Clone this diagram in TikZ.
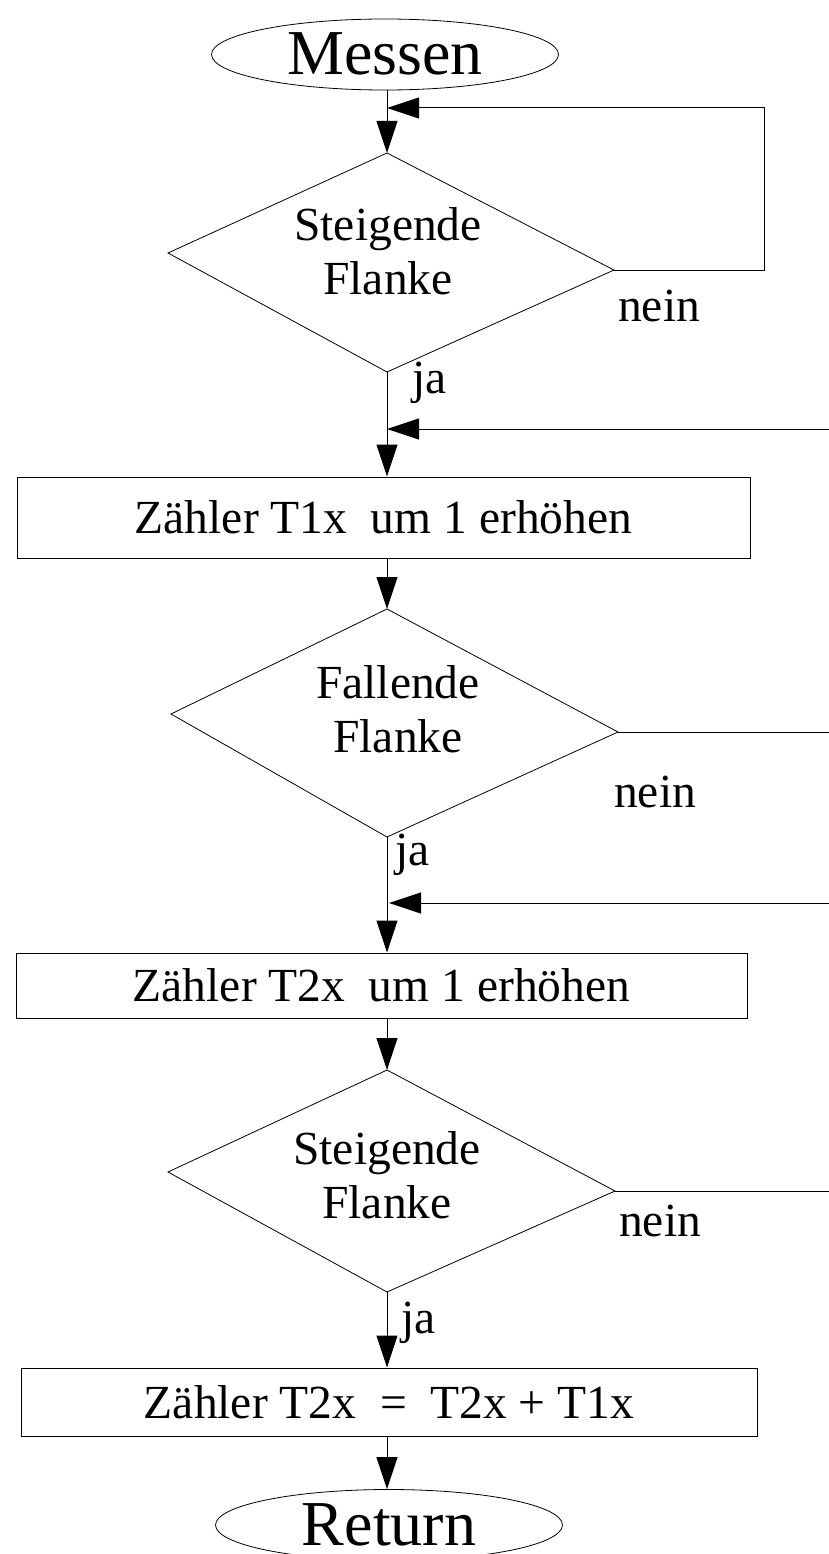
\documentclass[tikz,border=0pt]{standalone}
\usepackage{fontspec}
\setmainfont{Liberation Serif}
\usetikzlibrary{arrows.meta,shapes.geometric}
\tikzset{
  conn/.style={line width=1pt, draw=black},
  arr/.style={conn, -{Triangle[length=32pt,width=21pt]}},
  dia/.style={draw=black, line width=0.8pt, line join=miter},
  boxnode/.style={draw=black, line width=1pt, inner sep=0pt},
  txt/.style={font=\fontsize{47.5}{54}\selectfont},
  term/.style={draw=black, ellipse, line width=0.8pt, inner sep=0pt,
    minimum width=347pt, minimum height=71pt, text height=41pt, text depth=0pt,
    font=\fontsize{64}{70}\selectfont},
  lbl/.style={txt, inner sep=0pt, anchor=base west},
}
\begin{document}
\begin{tikzpicture}[x=1pt,y=-1pt]
\useasboundingbox (0,0) rectangle (829,1554);

% terminals
\node[term] (messen) at (385,54.5) {Messen};
\node[term] (ret) at (389,1525) {Return};

% diamond 1
\coordinate (d1t) at (387,153);
\coordinate (d1r) at (614,270);
\coordinate (d1b) at (387,372);
\coordinate (d1l) at (168,253);
\draw[dia] (d1t) -- (d1r) -- (d1b) -- (d1l) -- cycle;
\node[txt, align=center] (d1txt) at (388,251) {Steigende\\Flanke};

% diamond 2
\coordinate (d2t) at (387,609);
\coordinate (d2r) at (618,732);
\coordinate (d2b) at (387,837);
\coordinate (d2l) at (171,714);
\draw[dia] (d2t) -- (d2r) -- (d2b) -- (d2l) -- cycle;
\node[txt, align=center] (d2txt) at (398,709) {Fallende\\Flanke};

% diamond 3
\coordinate (d3t) at (387,1070);
\coordinate (d3r) at (615,1191);
\coordinate (d3b) at (387,1292);
\coordinate (d3l) at (168,1172);
\draw[dia] (d3t) -- (d3r) -- (d3b) -- (d3l) -- cycle;
\node[txt, align=center] (d3txt) at (387,1175) {Steigende\\Flanke};

% boxes
\node[boxnode, txt, minimum width=733pt, minimum height=81pt] (b1) at (383.5,517.5) {Zähler T1x~ um 1 erhöhen};
\node[boxnode, txt, minimum width=731pt, minimum height=65pt] (b2) at (381.5,985.5) {Zähler T2x~ um 1 erhöhen};
\node[boxnode, txt, minimum width=736pt, minimum height=68pt] (b3) at (389,1402) {Zähler T2x~ =~ T2x + T1x};

% junctions and free ends
\coordinate (j1) at (387,108);
\coordinate (c1a) at (764,270);
\coordinate (c1b) at (764,108);
\coordinate (e1) at (829,429);
\coordinate (j2) at (387,429);
\coordinate (e2) at (829,732);
\coordinate (e3) at (829,903);
\coordinate (j3) at (389,903);
\coordinate (e4) at (829,1191);

% connectors
\draw[arr] (messen.south -| d1t) -- (d1t);
\draw[arr] (d1r) -- (c1a) -- (c1b) -- (j1);
\draw[arr] (d1b) -- (d1b |- b1.north);
\draw[arr] (e1) -- (j2);
\draw[arr] (b1.south -| d2t) -- (d2t);
\draw[conn] (d2r) -- (e2);
\draw[arr] (d2b) -- (d2b |- b2.north);
\draw[arr] (e3) -- (j3);
\draw[arr] (b2.south -| d3t) -- (d3t);
\draw[conn] (d3r) -- (e4);
\draw[arr] (d3b) -- (d3b |- b3.north);
\draw[arr] (b3.south -| d3b) -- (d3b |- ret.north);

% labels
\node[lbl] (n1) at (618,321) {nein};
\node[lbl] (y1) at (412,393) {ja};
\node[lbl] (n2) at (614,807) {nein};
\node[lbl] (y2) at (395,865) {ja};
\node[lbl] (n3) at (619,1236) {nein};
\node[lbl] (y3) at (401,1333) {ja};
\end{tikzpicture}
\end{document}
